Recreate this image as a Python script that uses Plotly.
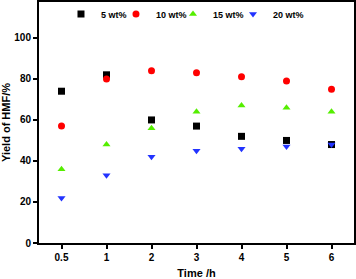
import plotly.graph_objects as go

times = ["0.5", "1", "2", "3", "4", "5", "6"]
y5 = [74, 82, 60, 57, 52, 50, 48]
y10 = [57, 80, 84, 83, 81, 79, 75]
y15 = [36, 48, 56, 64, 67, 66, 64]
y20 = [22, 33, 42, 45, 46, 47, 48]

series = [
    ("5 wt%", y5, "square", "#000000"),
    ("10 wt%", y10, "circle", "#ff0000"),
    ("15 wt%", y15, "triangle-up", "#55ee00"),
    ("20 wt%", y20, "triangle-down", "#2233ff"),
]
legend_x = [0.0698, 0.2444, 0.4254, 0.6159]

FAM = "Liberation Sans, Arial"
fig = go.Figure()
layout_legends = {}
for i, (name, ys, sym, col) in enumerate(series):
    lg = "legend" if i == 0 else f"legend{i+1}"
    fig.add_trace(go.Scatter(
        x=times, y=ys, mode="markers", name=name, legend=lg,
        marker=dict(symbol=sym, color=col, size=7, line=dict(width=0)),
    ))
    layout_legends[lg] = dict(
        orientation="h", x=legend_x[i], y=1.01, xanchor="left", yanchor="top",
        font=dict(family=FAM, size=9, color="#000", weight="bold"),
        bgcolor="rgba(0,0,0,0)", itemwidth=30, itemsizing="trace")

fig.update_layout(
    width=356, height=279,
    margin=dict(l=39, r=2, t=2, b=36, autoexpand=False),
    paper_bgcolor="white", plot_bgcolor="white",
    showlegend=True,
    font=dict(family=FAM, color="#000000"),
    **layout_legends,
)
fig.update_xaxes(
    type="category", range=[-0.5, 6.5], automargin=False,
    showline=True, linecolor="#000", linewidth=2, mirror=True,
    ticks="outside", ticklen=4, tickwidth=1.5, tickcolor="#000",
    showgrid=False, zeroline=False,
    tickfont=dict(size=10, family=FAM, weight="bold"),
    title=dict(text="Time /h", font=dict(size=11, family=FAM, weight="bold")),
)
fig.update_yaxes(
    range=[0, 117.5], tickvals=[0, 20, 40, 60, 80, 100], automargin=False,
    showline=True, linecolor="#000", linewidth=2, mirror=True,
    ticks="outside", ticklen=4, tickwidth=1.5, tickcolor="#000",
    showgrid=False, zeroline=False,
    tickfont=dict(size=10, family=FAM, weight="bold"),
    title=dict(text="Yield of HMF/%", font=dict(size=11, family=FAM, weight="bold")),
)
fig.write_html("out.html", config={"displayModeBar": False},
               post_script="document.body.style.margin='0';")
